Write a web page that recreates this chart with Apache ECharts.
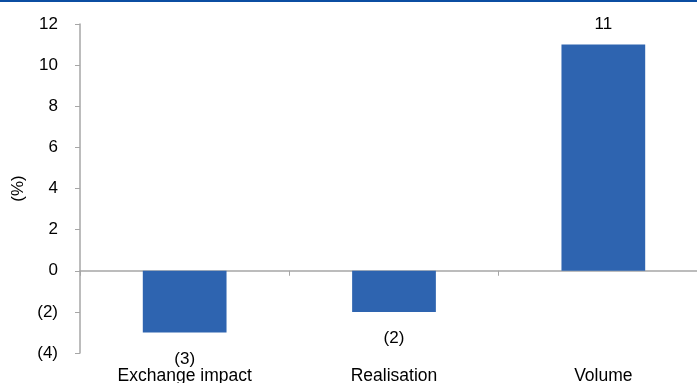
<!DOCTYPE html>
<html>
<head>
<meta charset="utf-8">
<script src="https://cdn.jsdelivr.net/npm/echarts@6/dist/echarts.min.js"></script>
<style>
  html, body { margin: 0; padding: 0; background: #fff; }
  #chart { width: 697px; height: 383px; }
</style>
</head>
<body>
<div id="chart"></div>
<script>
// Contribution to growth, by driver (%)
const categories = ['Exchange impact', 'Realisation', 'Volume'];
const values = [-3, -2, 11];
const yTicks = { min: -4, max: 12, step: 2 };

const fmt = v => (v < 0 ? '(' + Math.abs(v) + ')' : String(v));
const FONT = '"Liberation Sans", Arial, sans-serif';
const AXIS_GREY = '#a6a6a6';

const chart = echarts.init(document.getElementById('chart'), null, { renderer: 'canvas' });

chart.setOption({
  animation: false,
  backgroundColor: '#ffffff',
  textStyle: { fontFamily: FONT },
  graphic: [{
    type: 'rect',
    left: 0, top: 0,
    shape: { width: 697, height: 2 },
    style: { fill: '#0b4da2' }
  }],
  // plot area runs slightly past the right edge; keep it unclamped
  grid: { left: 80, width: 628, top: 24, height: 329, containLabel: false, outerBoundsMode: 'none' },
  xAxis: [
    {
      type: 'category',
      data: categories,
      position: 'bottom',
      axisLine: { show: false, onZero: false },
      axisTick: { show: false },
      axisLabel: { color: '#000', fontSize: 17.5, fontFamily: FONT, margin: 14 }
    },
    {
      type: 'category',
      data: categories,
      position: 'top',
      axisLine: { show: true, onZero: true, lineStyle: { color: AXIS_GREY, width: 1.5 } },
      axisTick: { show: true, inside: true, length: 5, lineStyle: { color: AXIS_GREY } },
      axisLabel: { show: false }
    }
  ],
  yAxis: {
    type: 'value',
    min: yTicks.min,
    max: yTicks.max,
    interval: yTicks.step,
    name: '(%)',
    nameLocation: 'middle',
    nameRotate: 90,
    nameGap: 52,
    nameTextStyle: { color: '#000', fontSize: 17, fontFamily: FONT },
    axisLine: { show: true, lineStyle: { color: AXIS_GREY, width: 1.5 } },
    axisTick: { show: true, length: 5, lineStyle: { color: AXIS_GREY } },
    splitLine: { show: false },
    axisLabel: { color: '#000', fontSize: 17, fontFamily: FONT, margin: 22, formatter: fmt }
  },
  series: [{
    type: 'bar',
    xAxisIndex: 0,
    barWidth: '40%',
    itemStyle: { color: '#2e64b0' },
    data: values.map(v => ({
      value: v,
      label: {
        show: true,
        position: v < 0 ? 'bottom' : 'top',
        distance: v < 0 ? 18 : 12,
        color: '#000',
        fontSize: 17,
        fontFamily: FONT,
        formatter: p => fmt(p.value)
      }
    }))
  }]
});
</script>
</body>
</html>
